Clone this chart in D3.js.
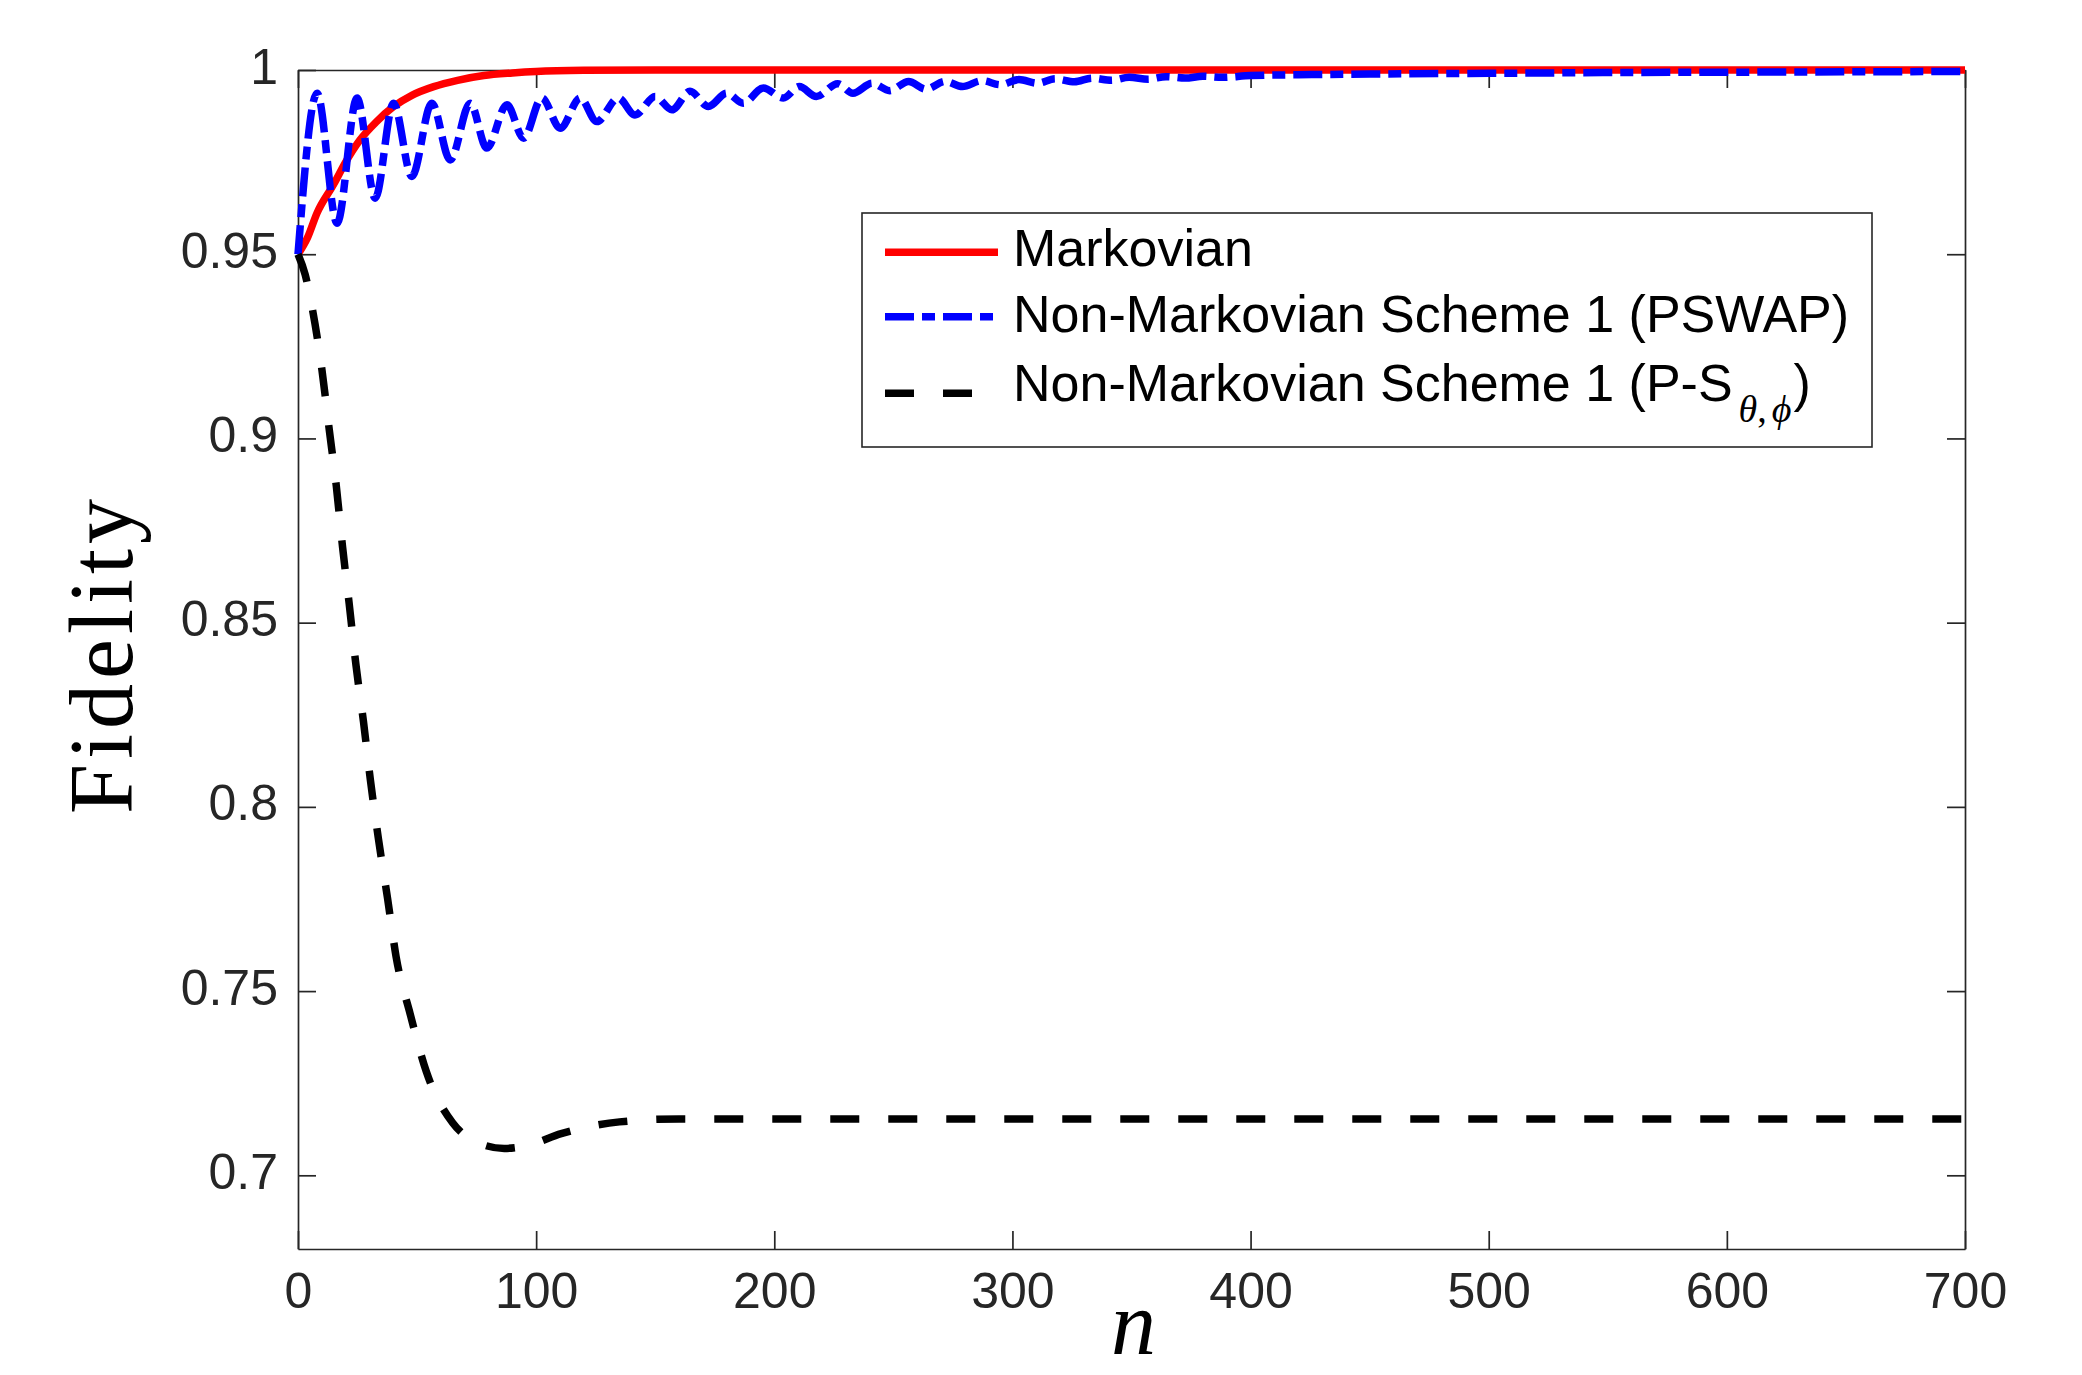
<!DOCTYPE html>
<html>
<head>
<meta charset="utf-8">
<script src="https://cdn.jsdelivr.net/npm/d3@7"></script>
<style>
  html, body { margin: 0; padding: 0; background: #fff; }
  svg { display: block; }
</style>
</head>
<body>
<svg id="chart" width="2082" height="1375"></svg>
<script>
// Fidelity vs. number of steps n for the three schemes.

// Markovian evolution
const markovN = [0, 4, 8, 15, 20, 26, 33, 40, 48, 57, 67, 78, 90, 100, 120, 150, 200, 300, 400, 500, 600, 700];
const markovF = [0.950, 0.9545, 0.9612, 0.9690, 0.9750, 0.9810, 0.9860, 0.9900, 0.9932, 0.9955, 0.9972, 0.9985, 0.9992, 0.9996, 0.9999, 1.0, 1.0, 1.0, 1.0, 1.0, 1.0, 1.0];

// Non-Markovian Scheme 1 (PSWAP): damped oscillation, local maxima / minima
const pswapN = [0, 8.0, 16.4, 24.8, 32.4, 40.1, 47.8, 56.2, 63.9, 72.3, 79.3, 87.7, 94.7, 102.4, 110.1, 118.5, 125.5,
  134.5, 141.5, 150.0, 157.0, 164.6, 172.3, 180.0, 187.0, 195.4, 203.8, 210.5, 217.7, 226.6, 233.0, 241.1, 248.4,
  256.4, 263.7, 271.8, 279.0, 287.2, 295.0, 302.7, 310.5, 318.0, 326.0, 333.5, 341.5, 349.0, 357.0, 364.5, 372.5,
  380.0, 388.0, 400, 420, 450, 500, 550, 600, 650, 700];
const pswapF = [0.950, 0.9937, 0.9584, 0.9924, 0.9652, 0.9910, 0.9711, 0.9910, 0.9756, 0.9910, 0.9788, 0.9906, 0.9815,
  0.9924, 0.9842, 0.9924, 0.9860, 0.9924, 0.9878, 0.9928, 0.9892, 0.9942, 0.9901, 0.9937, 0.9910, 0.9951, 0.9924,
  0.9955, 0.9928, 0.9963, 0.9937, 0.9964, 0.9944, 0.9969, 0.9948, 0.9969, 0.9955, 0.9971, 0.9960, 0.9974, 0.9964,
  0.9976, 0.9968, 0.9978, 0.9972, 0.9980, 0.9975, 0.9982, 0.9978, 0.9983, 0.9980, 0.9985, 0.9987, 0.9989, 0.9991,
  0.9993, 0.9994, 0.9995, 0.9996];

// Non-Markovian Scheme 1 (P-S_{theta,phi})
const psN = [0, 3, 6.1, 10.1, 13.1, 16.1, 18.7, 21.5, 24.3, 27.5, 30.4, 33.8, 37.6, 41.2, 47.1, 53.8, 65.0, 75, 86.6, 97,
  110.5, 135, 160, 200, 300, 400, 500, 600, 700];
const psF = [0.950, 0.9445, 0.9349, 0.9184, 0.9025, 0.8870, 0.8706, 0.8551, 0.8387, 0.8231, 0.8073, 0.7912, 0.7752,
  0.7593, 0.7438, 0.7283, 0.7142, 0.7090, 0.7073, 0.7082, 0.7113, 0.7145, 0.7153, 0.7153, 0.7153, 0.7153, 0.7153,
  0.7153, 0.7153];

const xTicks = [0, 100, 200, 300, 400, 500, 600, 700];
const yTicks = [0.7, 0.75, 0.8, 0.85, 0.9, 0.95, 1];
const xTickLabels = ["0", "100", "200", "300", "400", "500", "600", "700"];
const yTickLabels = ["0.7", "0.75", "0.8", "0.85", "0.9", "0.95", "1"];
const seriesNames = ["Markovian", "Non-Markovian Scheme 1 (PSWAP)", "Non-Markovian Scheme 1 (P-S"];

const axisColor = "#262626";
const sansFont = "'Liberation Sans', Arial, Helvetica, sans-serif";
const serifFont = "'Liberation Serif', 'DejaVu Serif', 'Times New Roman', serif";

const margin = { left: 298, top: 70, right: 2082 - 1965, bottom: 1375 - 1249 };
const W = 2082, H = 1375;
const innerW = W - margin.left - margin.right;
const innerH = H - margin.top - margin.bottom;

const svg = d3.select("#chart");
svg.append("rect").attr("width", W).attr("height", H).attr("fill", "#fff");

const x = d3.scaleLinear().domain([0, 700]).range([0, innerW]);
const y = d3.scaleLinear().domain([0.68, 1]).range([innerH, 0]);

const g = svg.append("g").attr("transform", `translate(${margin.left},${margin.top})`);

// Axes box with inward ticks on all four sides
const tickLen = 18;
function styleAxis(sel) {
  sel.selectAll("path.domain").attr("stroke", axisColor).attr("stroke-width", 1.7);
  sel.selectAll(".tick line").attr("stroke", axisColor).attr("stroke-width", 1.7);
}

const xAxisB = g.append("g").attr("transform", `translate(0,${innerH})`)
  .call(d3.axisBottom(x).tickValues(xTicks).tickSizeInner(-tickLen).tickSizeOuter(0)
    .tickFormat((d, i) => xTickLabels[i]));
styleAxis(xAxisB);
xAxisB.selectAll(".tick text")
  .attr("y", 59).attr("dy", 0)
  .attr("fill", axisColor)
  .style("font-family", sansFont).style("font-size", "50px");

const xAxisT = g.append("g")
  .call(d3.axisTop(x).tickValues(xTicks).tickSizeInner(-tickLen).tickSizeOuter(0).tickFormat(""));
styleAxis(xAxisT);

const yAxisL = g.append("g")
  .call(d3.axisLeft(y).tickValues(yTicks).tickSizeInner(-tickLen).tickSizeOuter(0)
    .tickFormat((d, i) => yTickLabels[i]));
styleAxis(yAxisL);
yAxisL.selectAll(".tick text")
  .attr("x", -20).attr("dy", 0).attr("y", 13)
  .attr("fill", axisColor)
  .style("font-family", sansFont).style("font-size", "50px");

const yAxisR = g.append("g").attr("transform", `translate(${innerW},0)`)
  .call(d3.axisRight(y).tickValues(yTicks).tickSizeInner(-tickLen).tickSizeOuter(0).tickFormat(""));
styleAxis(yAxisR);

svg.selectAll(".domain").attr("fill", "none");

// Curves
const line = d3.line().x(d => x(d[0])).y(d => y(d[1])).curve(d3.curveMonotoneX);
const zip = (a, b) => a.map((v, i) => [v, b[i]]);

const series = [
  { data: zip(markovN, markovF), color: "#ff0000", dash: null },
  { data: zip(pswapN, pswapF), color: "#0000ff", dash: "29 8 13 8" },
  { data: zip(psN, psF), color: "#000000", dash: "29 29" }
];

series.forEach(s => {
  g.append("path")
    .datum(s.data)
    .attr("d", line)
    .attr("fill", "none")
    .attr("stroke", s.color)
    .attr("stroke-width", 7.5)
    .attr("stroke-linejoin", "round")
    .attr("stroke-dasharray", s.dash);
});

// Legend
const legend = svg.append("g");
legend.append("rect")
  .attr("x", 862).attr("y", 213).attr("width", 1010).attr("height", 234)
  .attr("fill", "#fff").attr("stroke", axisColor).attr("stroke-width", 1.6);

const sampleY = [252.3, 316.7, 393.3];
const textY = [265.7, 331.6, 401];
series.forEach((s, i) => {
  legend.append("line")
    .attr("x1", 885).attr("x2", 998)
    .attr("y1", sampleY[i]).attr("y2", sampleY[i])
    .attr("stroke", s.color).attr("stroke-width", 7.5)
    .attr("stroke-dasharray", s.dash);
});

seriesNames.forEach((name, i) => {
  const t = legend.append("text")
    .attr("x", 1013).attr("y", textY[i])
    .attr("fill", "#000")
    .style("font-family", sansFont).style("font-size", "52px")
    .text(name);
  if (i === 2) {
    t.append("tspan")
      .attr("dx", 6).attr("dy", 21)
      .style("font-family", serifFont).style("font-style", "italic").style("font-size", "38px")
      .text("θ");
    t.append("tspan")
      .style("font-family", serifFont).style("font-size", "38px")
      .text(",");
    t.append("tspan")
      .attr("dx", 5)
      .style("font-family", serifFont).style("font-style", "italic").style("font-size", "38px")
      .text("ϕ");
    t.append("tspan")
      .attr("dx", 2).attr("dy", -21)
      .text(")");
  }
});

// Axis titles
svg.append("text")
  .attr("transform", `translate(131.7,${margin.top + innerH / 2 - 3}) rotate(-90)`)
  .attr("text-anchor", "middle")
  .attr("fill", "#000")
  .attr("textLength", 315).attr("lengthAdjust", "spacing")
  .style("font-family", serifFont).style("font-size", "90px")
  .text("Fidelity");

svg.append("text")
  .attr("x", margin.left + innerW / 2 + 2).attr("y", 1354)
  .attr("text-anchor", "middle")
  .attr("fill", "#000")
  .style("font-family", serifFont).style("font-style", "italic").style("font-size", "90px")
  .text("n");
</script>
</body>
</html>
